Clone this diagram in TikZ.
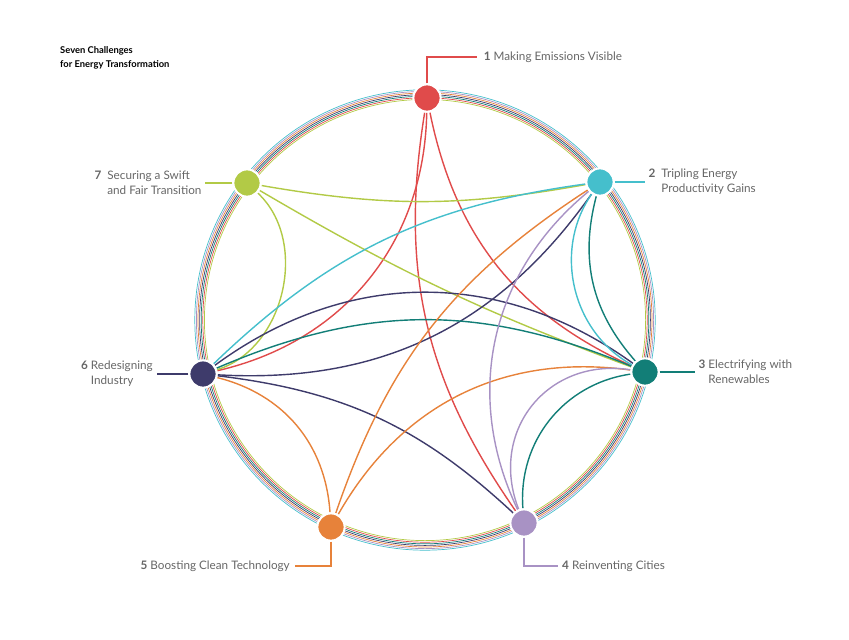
\documentclass[tikz,border=0pt]{standalone}
\usepackage{fontspec}
\setmainfont{Lato}
\usetikzlibrary{backgrounds}
\definecolor{cred}{HTML}{E04B4B}
\definecolor{ccyan}{HTML}{45BFCC}
\definecolor{cteal}{HTML}{127E77}
\definecolor{clilac}{HTML}{A892C4}
\definecolor{corange}{HTML}{E7823A}
\definecolor{cnavy}{HTML}{3E3B6B}
\definecolor{clime}{HTML}{B2CA46}
\definecolor{ctext}{HTML}{666666}
\tikzset{
  chal/.style={circle, fill=#1, draw=white, line width=1.8pt, minimum size=0.82cm, inner sep=0pt},
  chord/.style={line width=1.2pt},
  lead/.style={line width=0.9pt},
  lbl/.style={text=ctext, font=\fontsize{10}{13}\selectfont, inner sep=0pt, align=left}
}
\begin{document}
\begin{tikzpicture}[x=0.03cm, y=-0.03cm]
    \useasboundingbox (0,0) rectangle (849,639);
    \coordinate (ctr) at (425,320);

    % Title
    \node [anchor=north west, align=left, inner sep=0pt, font=\bfseries\fontsize{8}{12}\selectfont] (title) at (60,46) {Seven Challenges\\for Energy Transformation};

    % Challenges
    \node [chal=cred] (n1) at (427,98) {};
    \node [chal=ccyan] (n2) at (600,182) {};
    \node [chal=cteal] (n3) at (645,372) {};
    \node [chal=clilac] (n4) at (524,523) {};
    \node [chal=corange] (n5) at (331,527) {};
    \node [chal=cnavy] (n6) at (203,374) {};
    \node [chal=clime] (n7) at (247,183) {};

    \begin{scope}[on background layer]
        % Outer ring
        \foreach \c [count=\i] in {clime,cred,cteal,cnavy,corange,clilac,ccyan}
            \draw [\c, line width=0.6pt] (ctr) circle ({219+1.6*\i});

        % Links
        \foreach \a/\b/\c/\ang/\loose in {6/1/cred/38/1, 1/4/cred/22/1, 1/3/cred/27/1,
                                 7/2/clime/10/1, 7/3/clime/5/1, 6/7/clime/60/1,
                                 6/2/cnavy/29/1, 3/6/cnavy/36/1, 4/6/cnavy/18/1,
                                 3/6/cteal/23/1, 2/3/cteal/28/1, 3/4/cteal/43/1,
                                 6/2/ccyan/-18/1, 2/3/ccyan/48/1,
                                 2/5/corange/19/1, 3/5/corange/34/1, 5/6/corange/36/1,
                                 2/4/clilac/38/1, 3/4/clilac/60/1.2}
            \draw [chord, \c] (n\a) to [bend right=\ang, looseness=\loose] (n\b);
    \end{scope}

    % Labels
    \draw [lead, cred] (n1) -- (427,57) coordinate (l1) -- ++(50,0) coordinate (e1);
    \node [lbl, anchor=west] (t1) at ([xshift=0.2cm]e1) {\textbf{1} Making Emissions Visible};
    \draw [lead, ccyan] (n2) -- ++(45,0) coordinate (e2);
    \node [lbl, anchor=west] (t2) at ([xshift=0.1cm]e2) {\textbf{2}\ \ Tripling Energy\\\phantom{\textbf{2}\ \ }Productivity Gains};
    \draw [lead, cteal] (n3) -- ++(50,0) coordinate (e3);
    \node [lbl, anchor=west] (t3) at ([xshift=0.1cm]e3) {\textbf{3} Electrifying with\\\phantom{\textbf{3} }Renewables};
    \draw [lead, clilac] (n4) -- (524,566) -- ++(34,0) coordinate (e4);
    \node [lbl, anchor=west] (t4) at ([xshift=0.12cm]e4) {\textbf{4} Reinventing Cities};
    \draw [lead, corange] (n5) -- (331,566) -- ++(-36,0) coordinate (e5);
    \node [lbl, anchor=east] (t5) at ([xshift=-0.15cm]e5) {\textbf{5} Boosting Clean Technology};
    \draw [lead, cnavy] (n6) -- ++(-46,0) coordinate (e6);
    \node [lbl, anchor=east] (t6) at ([xshift=-0.12cm]e6) {\textbf{6} Redesigning\\\phantom{\textbf{6} }Industry};
    \draw [lead, clime] (n7) -- ++(-42,0) coordinate (e7);
    \node [lbl, anchor=east] (t7) at ([xshift=-0.1cm]e7) {\textbf{7}\ \ Securing a Swift\\\phantom{\textbf{7}\ \ }and Fair Transition};
\end{tikzpicture}
\end{document}
